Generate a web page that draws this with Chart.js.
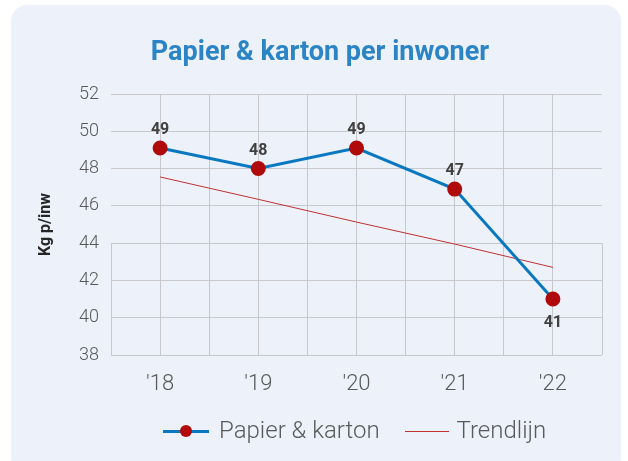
<!DOCTYPE html>
<html>
<head>
<meta charset="utf-8">
<script src="https://cdn.jsdelivr.net/npm/chart.js@4"></script>
<style>
  body { margin: 0; background: #fff; font-family: Roboto, sans-serif; }
  #card { position: absolute; left: 11px; top: 5px; width: 610px; height: 470px; background: #edf2fa; border-radius: 16px; }
  #wrap { position: absolute; left: 0; top: 0; width: 628px; height: 461px; }
  #title { position: absolute; left: 0; top: 35px; width: 640px; text-align: center; font-weight: bold; font-size: 27px; color: #2a84c6; }
  #legend { position: absolute; left: 163px; top: 414px; text-align: left; font-size: 24px; font-weight: 300; color: #595959; white-space: nowrap; }
  .item { display: inline-block; vertical-align: middle; }
  .item + .item { margin-left: 19px; }
  .mk { display: inline-block; position: relative; width: 46px; height: 20px; vertical-align: middle; margin-right: 10px; }
  .mk.t { width: 44px; margin-right: 8px; }
  .mk .ln { position: absolute; left: 0; right: 0; top: 9px; height: 3px; background: #0a78c0; }
  .mk .dt { position: absolute; left: 17px; top: 4px; width: 12px; height: 12px; border-radius: 50%; background: #b00a0a; }
  .mk .tr { position: absolute; left: 0; right: 0; top: 10px; height: 1px; background: #c03030; }
</style>
</head>
<body>
<div id="card"></div>
<div id="wrap"><canvas id="chart" width="628" height="461"></canvas></div>
<div id="title">Papier &amp; karton per inwoner</div>
<div id="legend">
  <span class="item"><span class="mk"><span class="ln"></span><span class="dt"></span></span>Papier &amp; karton</span>
  <span class="item"><span class="mk t"><span class="tr"></span></span>Trendlijn</span>
</div>
<script>
var categories = ["'18", "'19", "'20", "'21", "'22"];
var papier = [49.1, 48.0, 49.1, 46.9, 41.0];
var trend = [47.55, 46.35, 45.13, 43.95, 42.7];
var yTicks = [38, 40, 42, 44, 46, 48, 50, 52];

function points(arr) {
  var out = [];
  for (var i = 0; i < arr.length; i++) out.push({ x: i, y: arr[i] });
  return out;
}

// value labels above / below points
var labelPlugin = {
  id: "labels",
  afterDatasetsDraw: function (chart) {
    var ctx = chart.ctx;
    var meta = chart.getDatasetMeta(0);
    ctx.save();
    ctx.font = "bold 16px Roboto";
    ctx.fillStyle = "#404040";
    ctx.textAlign = "center";
    ctx.textBaseline = "middle";
    for (var i = 0; i < meta.data.length; i++) {
      var p = meta.data[i];
      var below = i == meta.data.length - 1;
      ctx.fillText(Math.round(papier[i]), p.x, below ? p.y + 24 : p.y - 18);
    }
    ctx.restore();
  }
};

// outer box edges only shown below 44
var edgePlugin = {
  id: "edges",
  beforeDatasetsDraw: function (chart) {
    var ctx = chart.ctx, xs = chart.scales.x, ys = chart.scales.y;
    ctx.save();
    ctx.strokeStyle = "#c8c8cc";
    ctx.lineWidth = 1;
    [-0.5, 4.5].forEach(function (v) {
      var x = Math.round(xs.getPixelForValue(v)) + 0.5;
      ctx.beginPath();
      ctx.moveTo(x, ys.getPixelForValue(44));
      ctx.lineTo(x, ys.getPixelForValue(38));
      ctx.stroke();
    });
    ctx.restore();
  }
};

var ctx = document.getElementById("chart");
var chart = new Chart(ctx, {
  type: "line",
  data: {
    datasets: [
      {
        label: "Papier & karton",
        data: points(papier),
        borderColor: "#0a78c0",
        borderWidth: 3,
        backgroundColor: "#b00a0a",
        pointBackgroundColor: "#b00a0a",
        pointBorderColor: "#b00a0a",
        pointRadius: 6,
        tension: 0,
        fill: false
      },
      {
        label: "Trendlijn",
        data: points(trend),
        borderColor: "#c03030",
        borderWidth: 1,
        pointRadius: 0,
        tension: 0,
        fill: false
      }
    ]
  },
  options: {
    responsive: false,
    animation: false,
    layout: { padding: { left: 36, right: 26, top: 94, bottom: 0 } },
    plugins: { legend: { display: false }, tooltip: { enabled: false } },
    scales: {
      x: {
        type: "linear",
        min: -0.5,
        max: 4.5,
        afterBuildTicks: function (axis) {
          var t = [];
          for (var v = -0.5; v <= 4.5; v += 0.5) t.push({ value: v });
          axis.ticks = t;
        },
        afterFit: function (axis) { axis.height = 106; },
        border: { display: false },
        grid: {
          drawTicks: false,
          color: function (c) {
            var v = c.tick ? c.tick.value : 0;
            return (v == -0.5 || v == 4.5) ? "rgba(0,0,0,0)" : "#c8c8cc";
          }
        },
        ticks: {
          autoSkip: false,
          maxRotation: 0,
          padding: 16,
          color: "#595959",
          font: { family: "Roboto", size: 22, weight: 300 },
          callback: function (v) {
            return Number.isInteger(v) ? categories[v] : "";
          }
        }
      },
      y: {
        min: 38,
        max: 52,
        afterBuildTicks: function (axis) {
          axis.ticks = yTicks.map(function (v) { return { value: v }; });
        },
        afterFit: function (axis) { axis.width = 75; },
        border: { display: false },
        grid: { drawTicks: false, color: "#c8c8cc" },
        ticks: {
          padding: 12,
          color: "#595959",
          font: { family: "Roboto", size: 18, weight: 300 }
        },
        title: {
          display: true,
          text: "Kg p/inw",
          color: "#262626",
          font: { family: "Roboto", size: 16, weight: "bold" },
          padding: { top: 0, bottom: 14 }
        }
      }
    }
  },
  plugins: [labelPlugin, edgePlugin]
});
</script>
</body>
</html>
